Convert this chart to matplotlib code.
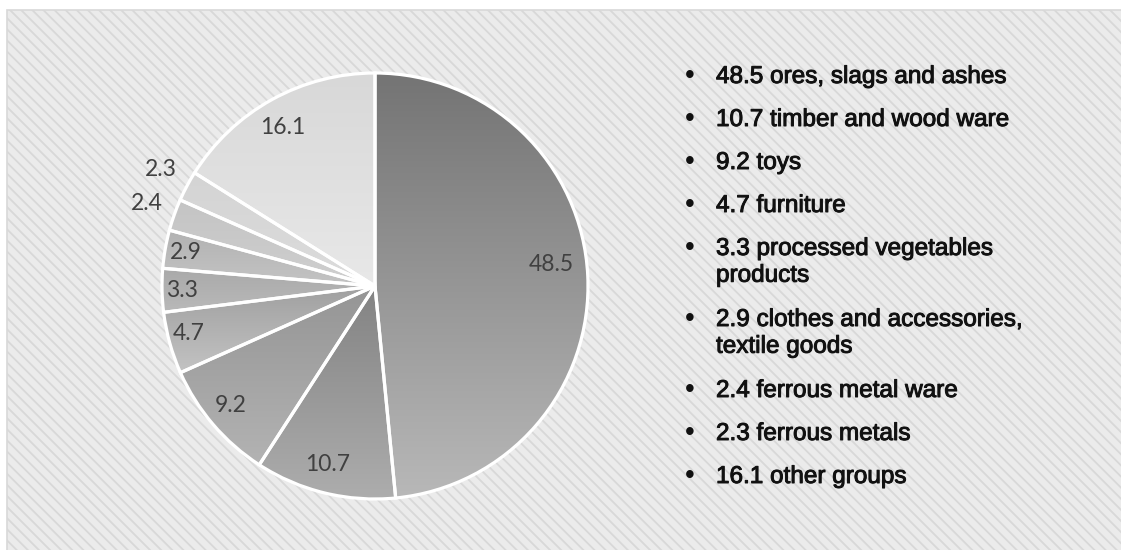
import numpy as np
import matplotlib.pyplot as plt
import matplotlib.patheffects as pe
from matplotlib.patches import Rectangle
from matplotlib.colors import LinearSegmentedColormap

# Data
values = [48.5, 10.7, 9.2, 4.7, 3.3, 2.9, 2.4, 2.3, 16.1]
labels = ["48.5", "10.7", "9.2", "4.7", "3.3", "2.9", "2.4", "2.3", "16.1"]
groups = ["ores, slags and ashes", "timber and wood ware", "toys", "furniture",
          "processed vegetables\nproducts", "clothes and accessories,\ntextile goods",
          "ferrous metal ware", "ferrous metals", "other groups"]

# gradient (top, bottom) for each slice
top_colors = ["#747474", "#838383", "#959595", "#a0a0a0", "#a9a9a9",
              "#b2b2b2", "#c4c4c4", "#d4d4d4", "#d8d8d8"]
bottom_colors = ["#b8b8b8", "#adadad", "#b3b3b3", "#c3c3c3", "#b9b9b9",
                 "#c4c4c4", "#cfcfcf", "#dcdcdc", "#e8e8e8"]

# where the value labels sit (pie radius = 1)
label_xy = [(0.826, 0.103), (-0.221, -0.836), (-0.676, -0.559), (-0.873, -0.225),
            (-0.906, -0.019), (-0.887, 0.155), (-1.070, 0.385), (-1.005, 0.549),
            (-0.432, 0.742)]

plt.rcParams["hatch.color"] = "#fafafa"
plt.rcParams["hatch.linewidth"] = 1.3

fig = plt.figure(figsize=(11.21, 5.5), dpi=100)
fig.patch.set_facecolor("white")

# hatched panel background (no right/bottom border visible)
bg = Rectangle((7 / 1121, -0.01), 1.0, 1 - 10 / 550 + 0.01, transform=fig.transFigure,
               facecolor="#ebebeb", edgecolor="#d8d8d8", hatch="\\\\\\", linewidth=1.2,
               zorder=-5)
fig.patches.append(bg)

# pie axes: centre at (375, 286) px, radius 213 px
size = 213 * 2.5
ax = fig.add_axes([(375 - size / 2) / 1121, (264 - size / 2) / 550, size / 1121, size / 550])
ax.set_zorder(2)
ax.set_aspect("equal")
ax.axis("off")
ax.patch.set_alpha(0)

wedges, _ = ax.pie(values, startangle=90, counterclock=False, radius=1.0,
                   wedgeprops=dict(facecolor="none", edgecolor="white", linewidth=2.3, zorder=3))

for w, c1, c2 in zip(wedges, top_colors, bottom_colors):
    verts = w.get_path().vertices
    x0, x1 = verts[:, 0].min(), verts[:, 0].max()
    y0, y1 = verts[:, 1].min(), verts[:, 1].max()
    cmap = LinearSegmentedColormap.from_list("g", [c2, c1])
    grad = np.linspace(0, 1, 256).reshape(-1, 1)
    im = ax.imshow(grad, cmap=cmap, extent=[x0, x1, y0, y1], origin="lower",
                   aspect="auto", zorder=2, interpolation="bilinear")
    im.set_clip_path(w)

ax.set_xlim(-1.25, 1.25)
ax.set_ylim(-1.25, 1.25)

for lab, (lx, ly) in zip(labels, label_xy):
    ax.text(lx, ly, lab, ha="center", va="center", fontsize=16.5, family="Lato",
            color="#404040", zorder=4)

# bullet list legend on the right
thick = [pe.withStroke(linewidth=0.7, foreground="#111111")]
y = 75
for v, g in zip(values, groups):
    fig.text(690 / 1121, 1 - (y + 1) / 550, "\u2022", ha="center", va="center",
             fontsize=20, color="#111111", family="Liberation Sans")
    fig.text(716 / 1121, 1 - (y - 9) / 550, f"{v} {g}", ha="left", va="top",
             fontsize=17.5, color="#111111", family="Liberation Sans", linespacing=1.28,
             path_effects=thick)
    y += 43 + 28 * g.count("\n")

fig.savefig("out.png", dpi=100)
